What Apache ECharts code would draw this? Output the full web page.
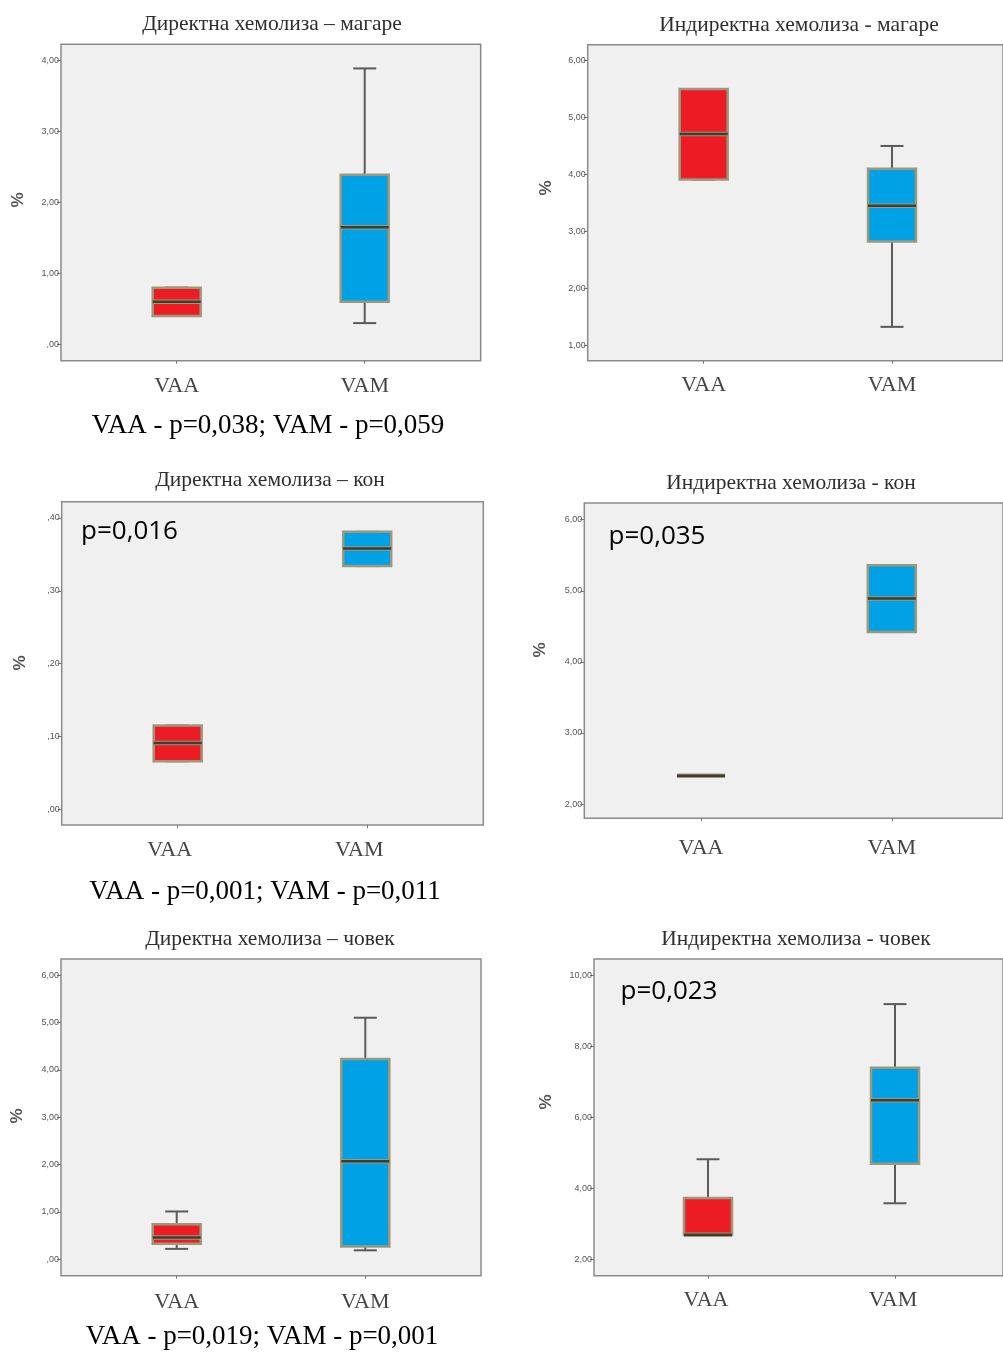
<!DOCTYPE html>
<html>
<head>
<meta charset="utf-8">
<script src="https://cdn.jsdelivr.net/npm/echarts@6/dist/echarts.min.js"></script>
<style>
  html, body { margin: 0; padding: 0; background: #ffffff; }
  #chart { width: 1003px; height: 1352px; }
</style>
</head>
<body>
<div id="chart"></div>
<script>
// ---------------- DATA ----------------
const categories = ['VAA', 'VAM'];

const panelTitles = [
  'Директна хемолиза – магаре',
  'Индиректна хемолиза - магаре',
  'Директна хемолиза – кон',
  'Индиректна хемолиза - кон',
  'Директна хемолиза – човек',
  'Индиректна хемолиза - човек'
];

// box values: [min, Q1, median, Q3, max]
const directDonkeyVAA   = [0.40, 0.40, 0.60, 0.80, 0.80];
const directDonkeyVAM   = [0.30, 0.60, 1.65, 2.39, 3.89];
const indirectDonkeyVAA = [3.91, 3.91, 4.71, 5.50, 5.50];
const indirectDonkeyVAM = [1.32, 2.82, 3.45, 4.10, 4.50];
const directHorseVAA    = [0.066, 0.066, 0.091, 0.115, 0.115];
const directHorseVAM    = [0.334, 0.334, 0.358, 0.381, 0.381];
const indirectHorseVAA  = [2.40, 2.40, 2.40, 2.40, 2.40];
const indirectHorseVAM  = [4.42, 4.42, 4.89, 5.36, 5.36];
const directHumanVAA    = [0.22, 0.33, 0.46, 0.74, 1.01];
const directHumanVAM    = [0.19, 0.27, 2.07, 4.23, 5.10];
const indirectHumanVAA  = [2.70, 2.70, 2.70, 3.74, 4.83];
const indirectHumanVAM  = [3.59, 4.70, 6.49, 7.41, 9.20];

// y-axis tick values
const ticksDirectDonkey   = [0, 1, 2, 3, 4];
const ticksIndirectDonkey = [1, 2, 3, 4, 5, 6];
const ticksDirectHorse    = [0, 0.1, 0.2, 0.3, 0.4];
const ticksIndirectHorse  = [2, 3, 4, 5, 6];
const ticksDirectHuman    = [0, 1, 2, 3, 4, 5, 6];
const ticksIndirectHuman  = [2, 4, 6, 8, 10];

// y-axis extents
const yMinValues = [-0.23, 0.725, -0.0216, 1.80, -0.346, 1.55];
const yMaxValues = [4.23, 6.28, 0.4224, 6.235, 6.34, 10.47];

const rowNotes = [
  'VAA - p=0,038; VAM - p=0,059',
  'VAA - p=0,001; VAM - p=0,011',
  'VAA - p=0,019; VAM - p=0,001'
];
const panelPValues = [null, null, 'p=0,016', 'p=0,035', null, 'p=0,023'];

// ---------------- LAYOUT / STYLE ----------------
const W = 1003, H = 1352;
// frame rectangles [x0, y0, x1, y1]
const frames = [
  [61, 44.3, 480.7, 360.7],
  [587.7, 44.7, 1007, 360.7],
  [61.7, 501.7, 483.3, 825],
  [584.3, 503, 1007, 818.3],
  [61, 959, 481, 1275.7],
  [594, 959, 1007, 1275.7]
];
// pixel centers of the two categories in each panel
const centers = [
  [176.7, 364.7],
  [703.7, 892],
  [177.7, 367.2],
  [701, 891.8],
  [176.7, 365.3],
  [708, 895]
];
const labelShift = [0, 0, 8, 0, 0, 2];
const labelMargin = [15, 14, 14, 19, 16, 14];
const percentPos = [[18, 200], [546, 188], [20, 663], [540, 650], [17, 1116], [546, 1102]];
const titlePos = [[272, 24], [799, 25], [270, 480], [791, 483], [270, 939], [796, 939]];
const notePos = [[268, 426], [265, 892], [262, 1337]];
const pPos = [null, null, [129.5, 531.7], [657, 536.7], null, [669, 991.7]];

const BOX_COLORS = ['#ED1C24', '#00A2E5'];
const BOX_BORDER = '#9d987c';
const MEDIAN = '#3f3d30';
const WHISKER = '#5a5a5a';
const BOX_W = 48, CAP_W = 23;

const panelData = [
  [directDonkeyVAA, directDonkeyVAM],
  [indirectDonkeyVAA, indirectDonkeyVAM],
  [directHorseVAA, directHorseVAM],
  [indirectHorseVAA, indirectHorseVAM],
  [directHumanVAA, directHumanVAM],
  [indirectHumanVAA, indirectHumanVAM]
];
const panelTicks = [ticksDirectDonkey, ticksIndirectDonkey, ticksDirectHorse,
                    ticksIndirectHorse, ticksDirectHuman, ticksIndirectHuman];

function spssFormat(v) {
  let s = (Math.round(v * 100) / 100).toFixed(2).replace('.', ',');
  if (s.indexOf('0,') === 0) s = s.slice(1);
  return s;
}

function renderBox(params, api) {
  const ci = api.value(0);
  const v = [api.value(1), api.value(2), api.value(3), api.value(4), api.value(5)];
  const ys = v.map(val => api.coord([ci, val])[1]);
  const cx = api.coord([ci, v[2]])[0];
  const half = BOX_W / 2, cap = CAP_W / 2;
  const ws = { stroke: WHISKER, lineWidth: 2 };
  return {
    type: 'group',
    children: [
      { type: 'line', shape: { x1: cx, y1: ys[4], x2: cx, y2: ys[3] }, style: ws },
      { type: 'line', shape: { x1: cx, y1: ys[0], x2: cx, y2: ys[1] }, style: ws },
      { type: 'line', shape: { x1: cx - cap, y1: ys[4], x2: cx + cap, y2: ys[4] }, style: ws },
      { type: 'line', shape: { x1: cx - cap, y1: ys[0], x2: cx + cap, y2: ys[0] }, style: ws },
      { type: 'rect', shape: { x: cx - half, y: ys[3], width: BOX_W, height: Math.max(ys[1] - ys[3], 0) },
        style: { fill: BOX_COLORS[ci], stroke: BOX_BORDER, lineWidth: 2.5 } },
      { type: 'line', shape: { x1: cx - half, y1: ys[2], x2: cx + half, y2: ys[2] },
        style: { stroke: BOX_BORDER, lineWidth: 4.5 } },
      { type: 'line', shape: { x1: cx - half, y1: ys[2], x2: cx + half, y2: ys[2] },
        style: { stroke: MEDIAN, lineWidth: 2.5 } }
    ]
  };
}

const grid = [], xAxis = [], yAxis = [], series = [], graphic = [];

// frame grids (0..5)
frames.forEach((f, i) => {
  grid.push({
    left: f[0], top: f[1], right: W - f[2], bottom: H - f[3],
    show: true, backgroundColor: '#f0f0f0', borderColor: '#8a8a8a', borderWidth: 1.5
  });
  xAxis.push({ type: 'value', gridIndex: i, show: false, min: 0, max: 1 });
  yAxis.push({
    type: 'value', gridIndex: i, min: yMinValues[i], max: yMaxValues[i],
    splitLine: { show: false },
    axisLine: { show: false, onZero: false },
    axisTick: { show: true, length: 4, customValues: panelTicks[i], lineStyle: { color: '#777', width: 1 } },
    axisLabel: {
      customValues: panelTicks[i], formatter: spssFormat, margin: 2,
      fontFamily: 'Liberation Sans', fontSize: 9, color: '#555'
    }
  });
});

// data grids (6..11)
frames.forEach((f, i) => {
  const c = centers[i];
  const d = c[1] - c[0];
  const left = c[0] - d / 2;
  const right = left + 2 * d;
  const gi = 6 + i;
  grid.push({ left: left, top: f[1], right: W - right, bottom: H - f[3], show: false });
  xAxis.push({
    type: 'category', gridIndex: gi, data: categories,
    axisLine: { show: false, onZero: false },
    axisTick: { show: true, alignWithLabel: true, length: 3, lineStyle: { color: '#777' } },
    axisLabel: {
      margin: labelMargin[i], fontFamily: 'Liberation Serif', fontSize: 22, color: '#444',
      padding: [0, labelShift[i] * 2, 0, 0]
    }
  });
  yAxis.push({ type: 'value', gridIndex: gi, min: yMinValues[i], max: yMaxValues[i], show: false });
  series.push({
    type: 'custom', xAxisIndex: gi, yAxisIndex: gi,
    renderItem: renderBox,
    encode: { x: 0, y: [1, 2, 3, 4, 5] },
    data: panelData[i].map((vals, k) => [k].concat(vals)),
    z: 5
  });

  // title
  graphic.push({
    type: 'text', x: titlePos[i][0], y: titlePos[i][1],
    style: { text: panelTitles[i], align: 'center', verticalAlign: 'middle',
      font: '21.5px "Liberation Serif"', fill: '#2e2e2e' }
  });
  // %
  graphic.push({
    type: 'text', x: percentPos[i][0], y: percentPos[i][1], rotation: Math.PI / 2,
    style: { text: '%', align: 'center', verticalAlign: 'middle',
      font: 'bold 17px "Liberation Sans"', fill: '#555' }
  });
  if (panelPValues[i]) {
    graphic.push({
      type: 'text', x: pPos[i][0], y: pPos[i][1], z: 10,
      style: { text: panelPValues[i], align: 'center', verticalAlign: 'middle',
        font: '26px "Open Sans"', fill: '#000' }
    });
  }
});

rowNotes.forEach((t, r) => {
  graphic.push({
    type: 'text', x: notePos[r][0], y: notePos[r][1],
    style: { text: t, align: 'center', verticalAlign: 'middle',
      font: '27px "Liberation Serif"', fill: '#000' }
  });
});

const chart = echarts.init(document.getElementById('chart'), null, { renderer: 'canvas' });
chart.setOption({
  animation: false,
  backgroundColor: '#ffffff',
  grid, xAxis, yAxis, series, graphic
});
</script>
</body>
</html>
